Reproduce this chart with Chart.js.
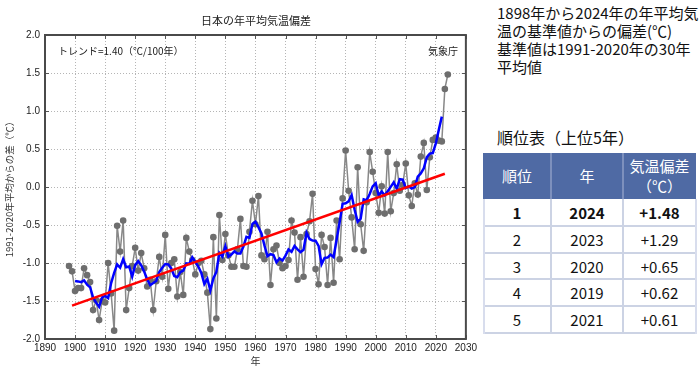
<!DOCTYPE html>
<html><head><meta charset="utf-8">
<script src="https://cdn.jsdelivr.net/npm/chart.js@4"></script>
<style>
body{margin:0;width:700px;height:367px;position:relative;background:#fff;overflow:hidden;font-family:"Noto Sans CJK JP","Noto Sans",sans-serif;}
#wrap{position:absolute;left:0;top:0;width:480px;height:367px;}
.t{position:absolute;white-space:nowrap;color:#222;}
.cell{position:absolute;display:flex;align-items:center;justify-content:center;text-align:center;box-sizing:border-box;}
.ln{position:absolute;}
</style></head><body>
<div id="wrap"><canvas id="c" width="480" height="367"></canvas></div>
<div class="t" style="left:156px;width:200px;text-align:center;top:13px;font-size:11px;line-height:14px;">日本の年平均気温偏差</div>
<div class="t" style="left:58px;top:45px;font-size:10px;line-height:12px;">トレンド=1.40（℃/100年）</div>
<div class="t" style="left:428px;top:45px;font-size:10px;line-height:12px;">気象庁</div>
<div class="t" style="left:497px;top:4px;font-size:15px;line-height:18px;color:#111;">1898年から2024年の年平均気<br>温の基準値からの偏差(℃)<br>基準値は1991-2020年の30年<br>平均値</div>
<div class="t" style="left:497px;top:127px;font-size:16px;line-height:20px;color:#111;">順位表（上位5年）</div>
<div id="tbl"></div>
<script>
// ---- data ----
const startYear = 1898;
const anom1898_1929 = [-1.04,-1.11,-1.37,-1.33,-1.33,-1.07,-1.16,-1.25,-1.62,-1.49,-1.75,-1.50,-1.52,-1.00,-1.40,-1.89,-0.51,-0.85,-0.44,-1.62,-1.33,-1.04,-0.80,-1.10,-0.87,-1.07,-1.31,-1.22,-1.62,-1.24,-0.92,-1.18];
const anom1930_1959 = [-0.63,-1.34,-1.00,-0.95,-1.44,-1.12,-1.42,-0.67,-0.85,-0.96,-1.15,-1.00,-0.97,-1.15,-1.39,-1.87,-0.66,-1.73,-0.37,-0.96,-0.62,-0.90,-1.05,-1.05,-0.82,-0.42,-1.04,-1.05,-0.59,-0.18];
const anom1960_1989 = [-0.49,-0.12,-0.90,-0.95,-0.59,-1.29,-0.82,-0.77,-1.00,-1.07,-1.04,-0.96,-0.44,-0.60,-1.22,-0.66,-1.18,-0.62,-0.45,-0.09,-1.08,-1.28,-0.63,-0.79,-1.29,-0.67,-1.26,-0.44,-0.95,-0.15];
const anom1990_2024 = [0.48,-0.05,-0.40,-0.82,0.26,-0.49,-0.84,-0.20,0.46,0.20,-0.08,-0.34,0.01,-0.35,0.46,-0.32,-0.08,0.30,-0.05,0.03,0.31,-0.11,-0.25,0.05,-0.10,0.40,0.58,-0.04,0.39,0.62,0.65,0.61,0.60,1.29,1.48];
const trendYears = [1899, 2023];
const trendValues = [-1.561, 0.175];
const xTickValues = [1890,1900,1910,1920,1930,1940,1950,1960,1970,1980,1990,2000,2010,2020,2030];
const yTickValues = [-2.0,-1.5,-1.0,-0.5,0.0,0.5,1.0,1.5,2.0];
const rankNo = ['1','2','3','4','5'];
const rankYear = ['2024','2023','2020','2019','2021'];
const rankValue = ['+1.48','+1.29','+0.65','+0.62','+0.61'];

// ---- build ----
const anomalies = [].concat(anom1898_1929, anom1930_1959, anom1960_1989, anom1990_2024);
const annualPts = anomalies.map((v,i)=>({x:startYear+i, y:v}));
const meanPts = [];
for (let i=2;i<anomalies.length-2;i++){
  let s=0; for(let k=-2;k<=2;k++) s+=anomalies[i+k];
  meanPts.push({x:startYear+i, y:s/5});
}
const trendPts = trendYears.map((yr,i)=>({x:yr,y:trendValues[i]}));

const framePlugin = {
  id:'frame',
  afterDatasetsDraw(chart){
    const {ctx, chartArea:{left,top,right,bottom}, scales:{x,y}} = chart;
    ctx.save();
    ctx.strokeStyle='#555'; ctx.lineWidth=1;
    ctx.beginPath();
    xTickValues.forEach(v=>{const p=Math.round(x.getPixelForValue(v))+0.5; ctx.moveTo(p,top); ctx.lineTo(p,top+4); ctx.moveTo(p,bottom); ctx.lineTo(p,bottom-4);});
    yTickValues.forEach(v=>{const p=Math.round(y.getPixelForValue(v))+0.5; ctx.moveTo(left,p); ctx.lineTo(left+4,p); ctx.moveTo(right,p); ctx.lineTo(right-4,p);});
    ctx.stroke();
    ctx.lineWidth=2; ctx.strokeStyle='#4a4a4a';
    ctx.strokeRect(left,top,right-left,bottom-top);
    ctx.restore();
  }
};

const tickFont = {family:'"Liberation Sans","Noto Sans CJK JP",sans-serif', size:10};
new Chart(document.getElementById('c'), {
  type:'line',
  data:{datasets:[
    {data:trendPts, borderColor:'#ff0000', borderWidth:2.5, pointRadius:0, order:0},
    {data:meanPts, borderColor:'#0000ff', borderWidth:2.5, pointRadius:0, order:1},
    {data:annualPts, borderColor:'#888888', borderWidth:1.5, pointRadius:3.3, pointBackgroundColor:'#6e6e6e', pointBorderWidth:0, order:2}
  ]},
  options:{
    responsive:false, animation:false, parsing:true,
    layout:{padding:{left:0,right:13,top:35,bottom:0}},
    plugins:{legend:{display:false}, tooltip:{enabled:false}, title:{display:false}},
    scales:{
      x:{type:'linear', min:1890, max:2030,
        afterBuildTicks:(s)=>{s.ticks = xTickValues.map(v=>({value:v}));},
        afterFit:(s)=>{s.height=28;},
        ticks:{padding:3, color:'#222', font:tickFont, callback:(v)=>String(v), maxRotation:0, autoSkip:false},
        grid:{color:'#b5b5b5', lineWidth:1, drawTicks:false},
        border:{display:false, dash:[1,2]},
        title:{display:true, text:'年', color:'#333', font:{family:'"Noto Sans CJK JP",sans-serif', size:10}, padding:{top:0,bottom:0}}
      },
      y:{type:'linear', min:-2, max:2,
        afterBuildTicks:(s)=>{s.ticks = yTickValues.map(v=>({value:v}));},
        afterFit:(s)=>{s.width=45;},
        ticks:{padding:5, color:'#222', font:tickFont, callback:(v)=>v.toFixed(1)},
        grid:{color:'#b5b5b5', lineWidth:1, drawTicks:false},
        border:{display:false, dash:[1,2]},
        title:{display:true, text:'1991-2020年平均からの差（℃）', color:'#333', font:{family:'"Noto Sans CJK JP",sans-serif', size:9.5}, padding:{top:4,bottom:0}}
      }
    }
  },
  plugins:[framePlugin]
});

// ---- ranking table ----
const tbl = document.getElementById('tbl');
const colX=[483,551,623], colW=[68,72,73];
const rowTop=[199,226,253,279,306], rowH=[27,27,26,27,27];
function add(html){tbl.insertAdjacentHTML('beforeend',html);}
add(`<div class="cell" style="left:483px;top:153px;width:213px;height:46px;background:#4f6aa4;"></div>`);
const heads=['順位','年','気温偏差<br>（℃）'];
heads.forEach((h,i)=>add(`<div class="cell" style="left:${colX[i]}px;top:153px;width:${colW[i]}px;height:46px;color:#fff;font-size:15px;line-height:20px;">${h}</div>`));
add(`<div class="ln" style="left:550px;top:153px;width:2px;height:46px;background:#7d90bd;"></div>`);
add(`<div class="ln" style="left:622px;top:153px;width:2px;height:46px;background:#7d90bd;"></div>`);
rankNo.forEach((n,r)=>{
  const vals=[n,rankYear[r],rankValue[r]];
  vals.forEach((v,i)=>add(`<div class="cell" style="left:${colX[i]}px;top:${rowTop[r]}px;width:${colW[i]}px;height:${rowH[r]}px;color:#111;font-size:15px;${r===0?'font-weight:bold;':''}">${v}</div>`));
  add(`<div class="ln" style="left:483px;top:${rowTop[r]+rowH[r]-1}px;width:213px;height:2px;background:#ccd3e4;"></div>`);
});
add(`<div class="ln" style="left:483px;top:199px;width:2px;height:135px;background:#d8dded;"></div>`);
add(`<div class="ln" style="left:550px;top:199px;width:2px;height:135px;background:#ccd3e4;"></div>`);
add(`<div class="ln" style="left:622px;top:199px;width:2px;height:135px;background:#ccd3e4;"></div>`);
add(`<div class="ln" style="left:695px;top:199px;width:2px;height:135px;background:#d8dded;"></div>`);
</script>
</body></html>
